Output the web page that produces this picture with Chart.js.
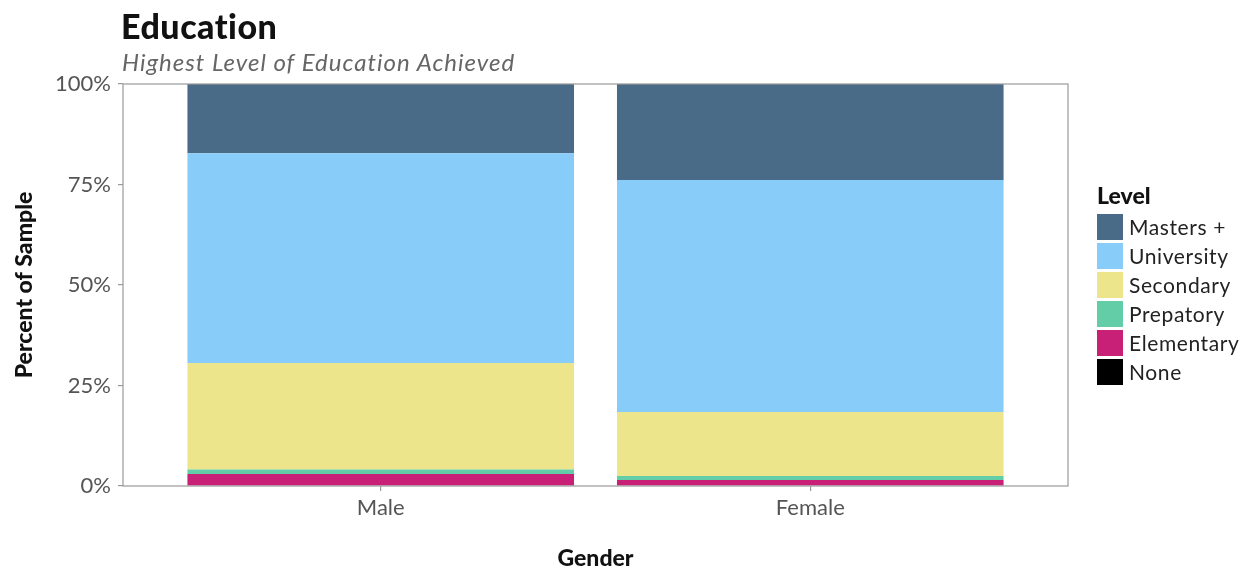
<!DOCTYPE html>
<html>
<head>
<meta charset="utf-8">
<script src="https://cdn.jsdelivr.net/npm/chart.js@4.4.1/dist/chart.umd.min.js"></script>
<style>
  html, body { margin: 0; padding: 0; background: #fff; }
  #wrap { position: relative; width: 1255px; height: 570px; font-family: Lato, 'Open Sans', sans-serif; }
  #title { position: absolute; left: 121px; top: 5px; font-size: 34px; font-weight: 900; color: #111; letter-spacing: 0.5px; }
  #subtitle { position: absolute; left: 122px; top: 47px; font-size: 24px; font-style: italic; color: #666; letter-spacing: 1px; }
  #legend { position: absolute; left: 1097px; top: 181px; color: #222; }
  #legend .lt { font-size: 23px; font-weight: 900; margin-bottom: 3px; color: #111; }
  #legend .it { display: flex; align-items: center; height: 29px; font-size: 21px; letter-spacing: 0.6px; }
  #legend .sw { width: 26px; height: 26px; margin-right: 6px; }
</style>
</head>
<body>
<div id="wrap">
  <canvas id="chart" width="1255" height="570"></canvas>
  <div id="title">Education</div>
  <div id="subtitle">Highest Level of Education Achieved</div>
  <div id="legend"></div>
</div>
<script>
// ─────────────────────────────────────────────
// Data
// ─────────────────────────────────────────────

const genders = ['Male', 'Female'];
const levels  = ['None', 'Elementary', 'Prepatory', 'Secondary', 'University', 'Masters +'];
const colors  = ['#000000', '#c81f77', '#62cda6', '#ede58c', '#88cdfa', '#4a6b87'];

const none       = [0.0, 0.0];
const elementary = [3.0, 1.5];
const prepatory  = [1.1, 1.0];
const secondary  = [26.5, 15.9];
const university = [52.2, 57.7];
const masters    = [17.2, 23.9];

const yTicks = [0, 25, 50, 75, 100];

const series = [none, elementary, prepatory, secondary, university, masters];

// ─────────────────────────────────────────────
// Chart
// ─────────────────────────────────────────────

const panelBorder = {
  id: 'panelBorder',
  afterDatasetsDraw(chart) {
    const { ctx, chartArea: a } = chart;
    ctx.save();
    ctx.strokeStyle = '#9a9a9a';
    ctx.lineWidth = 1.2;
    ctx.strokeRect(a.left, a.top, a.right - a.left, a.bottom - a.top);
    ctx.restore();
  }
};

const axisFont = { family: 'Lato, "Open Sans", sans-serif', size: 22 };
const titleFont = { family: 'Lato, "Open Sans", sans-serif', size: 23, weight: '900' };

new Chart(document.getElementById('chart'), {
  type: 'bar',
  data: {
    datasets: series.map((vals, i) => ({
      label: levels[i],
      data: vals.map((v, j) => ({ x: j + 1, y: v })),
      backgroundColor: colors[i],
      borderWidth: 0,
      categoryPercentage: 1,
      barPercentage: 0.9,
    }))
  },
  options: {
    responsive: false,
    animation: false,
    layout: { padding: { top: 84, right: 187, left: 0, bottom: 0 } },
    plugins: {
      legend : { display: false },
      tooltip: { enabled: false },
    },
    scales: {
      x: {
        type: 'linear',
        stacked: true,
        offset: false,
        min: 0.4,
        max: 2.6,
        afterBuildTicks: axis => { axis.ticks = genders.map((_, i) => ({ value: i + 1 })); },
        afterFit: s => { s.height = 84; },
        grid : { offset: false, drawOnChartArea: false, tickLength: 5, color: '#9a9a9a', lineWidth: 1.2 },
        border: { display: false },
        ticks: { font: axisFont, color: '#555', padding: 4, callback: v => genders[v - 1] },
        title: { display: true, text: 'Gender', font: titleFont, color: '#111', padding: { top: 26, bottom: -2 } },
      },
      y: {
        stacked: true,
        min: 0,
        max: 100,
        afterBuildTicks: axis => { axis.ticks = yTicks.map(v => ({ value: v })); },
        afterFit: s => { s.width = 123; },
        grid : { drawOnChartArea: false, tickLength: 5, color: '#9a9a9a', lineWidth: 1.2 },
        border: { display: false },
        ticks: { font: axisFont, color: '#555', padding: 7, callback: v => v + '%' },
        title: { display: true, text: 'Percent of Sample', font: titleFont, color: '#111', padding: { top: 11 } },
      }
    }
  },
  plugins: [panelBorder]
});

// ─────────────────────────────────────────────
// Legend (top = Masters +)
// ─────────────────────────────────────────────

const legend = document.getElementById('legend');
legend.innerHTML = '<div class="lt">Level</div>';
levels.slice().reverse().forEach((name, k) => {
  const i = levels.length - 1 - k;
  const div = document.createElement('div');
  div.className = 'it';
  div.innerHTML = `<div class="sw" style="background:${colors[i]}"></div><span>${name}</span>`;
  legend.appendChild(div);
});
</script>
</body>
</html>
